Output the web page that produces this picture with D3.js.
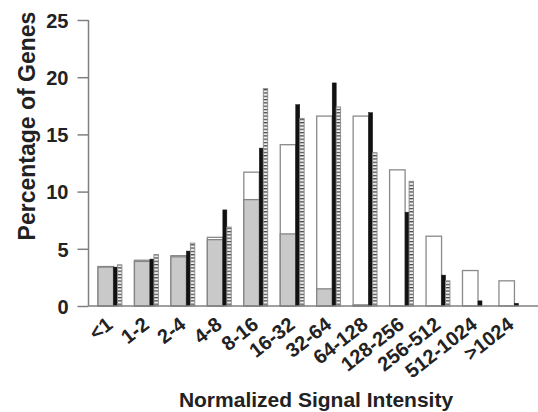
<!DOCTYPE html>
<html>
<head>
<meta charset="utf-8">
<script src="https://cdn.jsdelivr.net/npm/d3@7/dist/d3.min.js"></script>
<style>
  html, body { margin: 0; padding: 0; background: #fff; }
  svg text { font-family: "Liberation Sans", Arial, Helvetica, sans-serif; font-weight: bold; fill: #222; }
</style>
</head>
<body>
<svg id="chart" width="538" height="412"></svg>
<script>
const categories = ["<1","1-2","2-4","4-8","8-16","16-32","32-64","64-128","128-256","256-512","512-1024",">1024"];
const whiteValues  = [3.45, 4.0, 4.4, 6.0, 11.7, 14.1, 16.6, 16.6, 11.9, 6.1, 3.1, 2.2];
const grayValues   = [3.4, 3.9, 4.3, 5.8, 9.3, 6.3, 1.5, 0.1, 0, 0, 0, 0];
const blackValues  = [3.4, 4.1, 4.8, 8.4, 13.8, 17.6, 19.5, 16.9, 8.2, 2.7, 0.45, 0.23];
const hatchValues  = [3.6, 4.5, 5.5, 6.9, 19.0, 16.4, 17.4, 13.4, 10.9, 2.2, 0, 0];
const yTicks = [0, 5, 10, 15, 20, 25];

const svg = d3.select("#chart");
const x0 = 88.5, step = 36.45;
const x = d3.scaleBand().domain(categories).range([x0, x0 + step * categories.length]).padding(0);
const y = d3.scaleLinear().domain([0, 25]).range([306, 20]);

const defs = svg.append("defs");
const pat = defs.append("pattern").attr("id", "hatch")
  .attr("patternUnits", "userSpaceOnUse").attr("width", 6).attr("height", 3.3);
pat.append("rect").attr("width", 6).attr("height", 3.3).attr("fill", "#eeeeee");
pat.append("line").attr("x1", 0).attr("x2", 6).attr("y1", 0.6).attr("y2", 0.6)
  .attr("stroke", "#444").attr("stroke-width", 1.2);

// sub-bar offsets within each category band
const wideOff = 9.5, wideW = 15.5, blackOff = 25, blackW = 4, hatchOff = 29, hatchW = 4.4;

function bars(values, off, w, fill, stroke, sw) {
  svg.append("g").selectAll("rect").data(values).join("rect")
    .attr("x", (d, i) => x(categories[i]) + off)
    .attr("width", w)
    .attr("y", d => y(d))
    .attr("height", d => y(0) - y(d))
    .attr("fill", fill)
    .attr("stroke", d => d > 0 ? stroke : "none")
    .attr("stroke-width", sw);
}
bars(whiteValues, wideOff, wideW, "#ffffff", "#8a8a8a", 1.3);
bars(grayValues, wideOff, wideW, "#c9c9c9", "#858585", 1.3);
bars(blackValues, blackOff, blackW, "#111111", "#111111", 0.5);
bars(hatchValues, hatchOff, hatchW, "url(#hatch)", "#888", 0.9);

// axes
const yAxis = d3.axisLeft(y).tickValues(yTicks).tickSize(11).tickPadding(9);
const gy = svg.append("g").attr("transform", `translate(${x0},0)`).call(yAxis);
gy.select(".domain").remove();
gy.selectAll(".tick line").attr("stroke", "#808080").attr("stroke-width", 1.5);
gy.selectAll(".tick text").attr("font-size", 20).attr("dy", "0.36em")
  .style("font-family", '"Liberation Sans", Arial, sans-serif').style("font-weight", "bold").attr("fill", "#222");

svg.append("line").attr("x1", x0).attr("x2", x0).attr("y1", y(25)).attr("y2", y(0))
  .attr("stroke", "#808080").attr("stroke-width", 1.5);
svg.append("line").attr("x1", x0).attr("x2", 538).attr("y1", y(0)).attr("y2", y(0))
  .attr("stroke", "#808080").attr("stroke-width", 1.5);

// x tick labels
svg.append("g").selectAll("text").data(categories).join("text")
  .attr("transform", d => `translate(${x(d) + 25.5},${327}) rotate(-38)`)
  .attr("text-anchor", "end")
  .attr("font-size", 20)
  .text(d => d);

// titles
svg.append("text").attr("x", 316).attr("y", 407).attr("text-anchor", "middle")
  .attr("font-size", 21).text("Normalized Signal Intensity");
svg.append("text").attr("transform", "translate(35,126) rotate(-90)")
  .attr("text-anchor", "middle").attr("font-size", 23).text("Percentage of Genes");
</script>
</body>
</html>
